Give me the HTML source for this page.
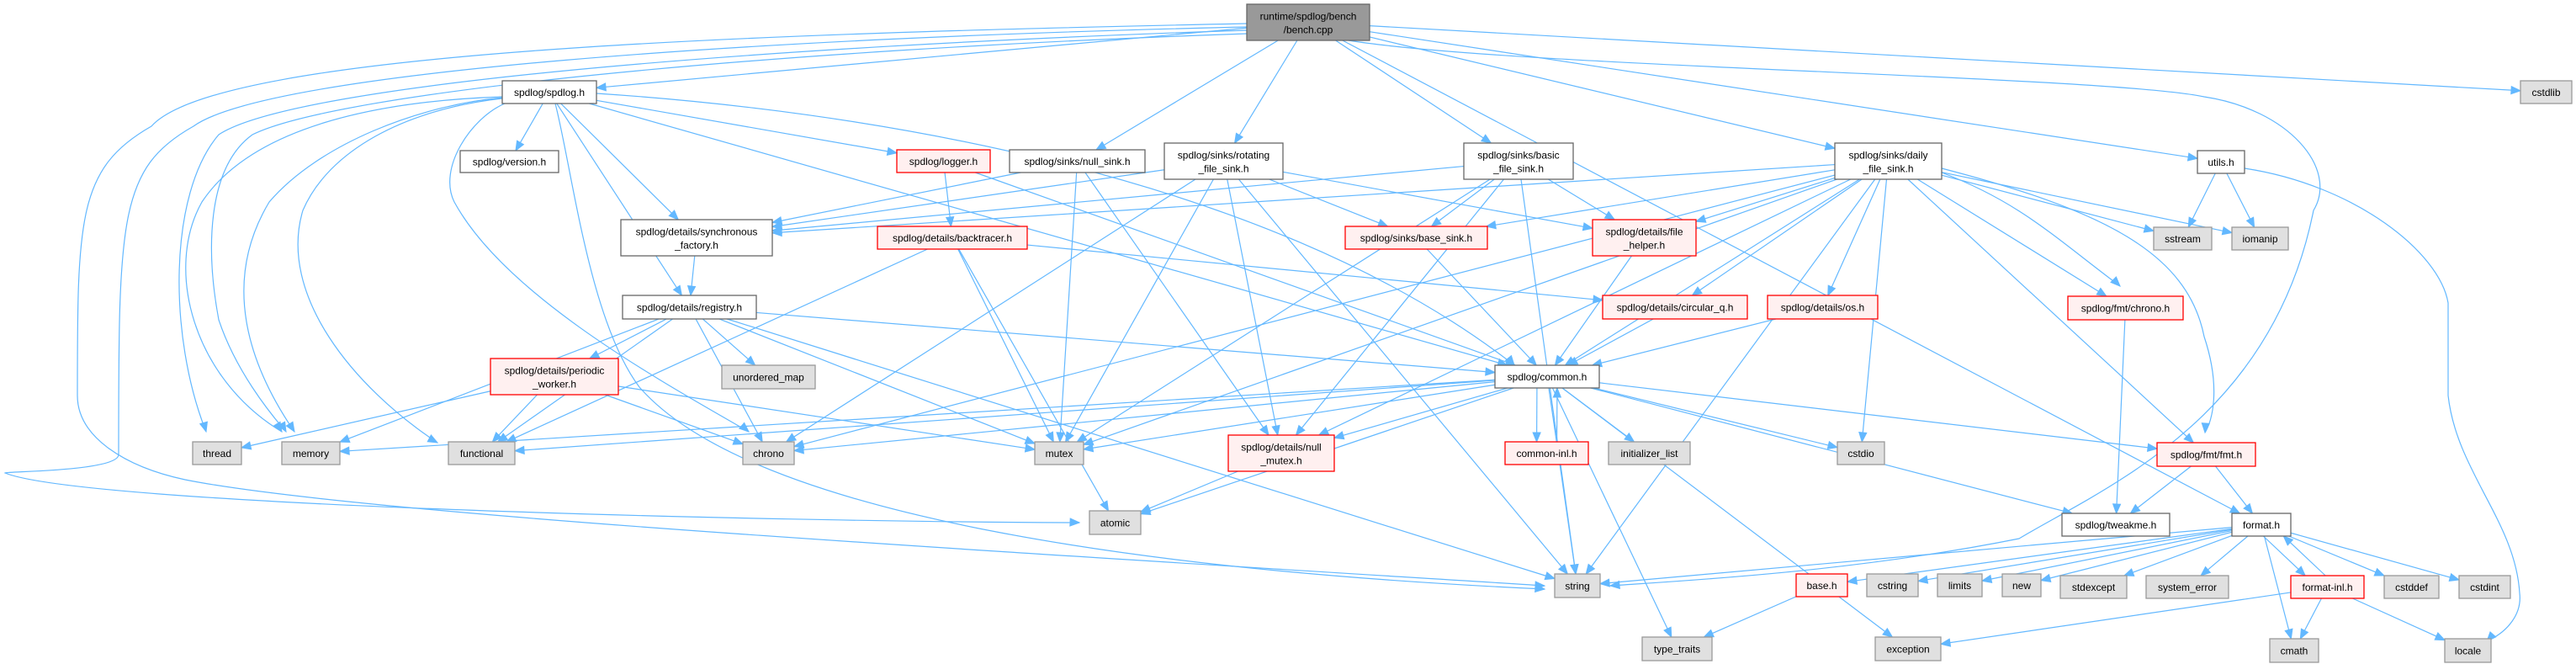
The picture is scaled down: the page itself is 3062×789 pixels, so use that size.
<!DOCTYPE html>
<html><head><meta charset="utf-8">
<style>
html,body{margin:0;padding:0;background:#fff;}
svg{display:block;}
text{font-family:"Liberation Sans",Arial,sans-serif;font-size:12px;fill:#000;}
</style></head>
<body>
<svg id="g" width="3062" height="789" viewBox="0 0 3062 789" xmlns="http://www.w3.org/2000/svg">
<g id="edges" fill="none" stroke="#63b8ff" stroke-width="1.2"></g>
<g id="arrows" fill="#63b8ff" stroke="#63b8ff"></g>
<g id="nodes"></g>
</svg>
<script>
var N={
bench:[1482,5,1628,48,'b',['runtime/spdlog/bench','/bench.cpp']],
cstdlib:[2996,96,3057,123,'s',['cstdlib']],
spdlog:[597,96,709,123,'w',['spdlog/spdlog.h']],
version:[547,179,664,205,'w',['spdlog/version.h']],
logger:[1066,178,1177,205,'r',['spdlog/logger.h']],
nullsink:[1200,178,1361,205,'w',['spdlog/sinks/null_sink.h']],
rot:[1384,170,1525,213,'w',['spdlog/sinks/rotating','_file_sink.h']],
basic:[1740,170,1870,213,'w',['spdlog/sinks/basic','_file_sink.h']],
daily:[2181,170,2308,213,'w',['spdlog/sinks/daily','_file_sink.h']],
utils:[2612,179,2668,206,'w',['utils.h']],
sstream:[2560,270,2629,297,'s',['sstream']],
iomanip:[2653,270,2720,297,'s',['iomanip']],
sync:[738,261,918,304,'w',['spdlog/details/synchronous','_factory.h']],
back:[1043,269,1221,296,'r',['spdlog/details/backtracer.h']],
basesink:[1599,269,1768,296,'r',['spdlog/sinks/base_sink.h']],
fileh:[1893,261,2016,304,'r',['spdlog/details/file','_helper.h']],
fchrono:[2458,352,2595,380,'r',['spdlog/fmt/chrono.h']],
reg:[740,351,899,379,'w',['spdlog/details/registry.h']],
circ:[1905,351,2077,379,'r',['spdlog/details/circular_q.h']],
os:[2101,351,2232,379,'r',['spdlog/details/os.h']],
per:[583,426,735,469,'r',['spdlog/details/periodic','_worker.h']],
umap:[858,434,969,462,'s',['unordered_map']],
common:[1777,434,1901,461,'w',['spdlog/common.h']],
fmt:[2564,526,2681,554,'r',['spdlog/fmt/fmt.h']],
thread:[229,525,287,552,'s',['thread']],
memory:[335,525,404,552,'s',['memory']],
functional:[533,525,612,552,'s',['functional']],
chrono:[883,525,944,552,'s',['chrono']],
mutex:[1230,525,1288,552,'s',['mutex']],
nullmutex:[1460,517,1586,560,'r',['spdlog/details/null','_mutex.h']],
cinl:[1789,525,1888,552,'r',['common-inl.h']],
ilist:[1912,525,2009,552,'s',['initializer_list']],
cstdio:[2184,525,2240,552,'s',['cstdio']],
tweak:[2451,610,2579,637,'w',['spdlog/tweakme.h']],
format:[2653,610,2723,637,'w',['format.h']],
atomic:[1295,607,1356,635,'s',['atomic']],
string:[1848,682,1902,710,'s',['string']],
base:[2135,682,2196,709,'r',['base.h']],
cstring:[2219,682,2280,709,'s',['cstring']],
limits:[2303,682,2356,709,'s',['limits']],
newh:[2380,682,2426,709,'s',['new']],
stdexc:[2449,684,2528,711,'s',['stdexcept']],
syserr:[2551,684,2649,711,'s',['system_error']],
finl:[2723,684,2810,711,'r',['format-inl.h']],
cstddef:[2834,684,2899,711,'s',['cstddef']],
cstdint:[2923,684,2984,711,'s',['cstdint']],
type:[1952,757,2035,785,'s',['type_traits']],
exc:[2229,757,2307,785,'s',['exception']],
cmath:[2698,759,2756,787,'s',['cmath']],
locale:[2906,759,2961,787,'s',['locale']]
};
var E=[
['bench','spdlog'],['bench','cstdlib'],['bench','nullsink'],['bench','rot'],['bench','basic'],['bench','daily'],['bench','utils'],['bench','format'],
['spdlog','version'],['spdlog','logger'],['spdlog','sync'],['spdlog','reg'],['spdlog','common'],
['logger','back'],['logger','common'],
['nullsink','sync'],['nullsink','nullmutex'],['nullsink','mutex'],
['rot','sync'],['rot','basesink'],['rot','fileh'],['rot','nullmutex'],['rot','mutex'],['rot','chrono'],['rot','string'],
['basic','sync'],['basic','basesink'],['basic','fileh'],['basic','nullmutex'],['basic','mutex'],['basic','string'],
['daily','sync'],['daily','basesink'],['daily','fileh'],['daily','circ'],['daily','os'],['daily','common'],['daily','fchrono'],['daily','fmt'],['daily','nullmutex'],['daily','mutex'],['daily','chrono'],['daily','cstdio'],['daily','string'],['daily','iomanip'],['daily','sstream'],
['utils','sstream'],['utils','iomanip'],
['sync','reg'],
['reg','common'],['reg','per'],['reg','chrono'],['reg','functional'],['reg','memory'],['reg','umap'],['reg','mutex'],['reg','string'],
['back','circ'],['back','atomic'],['back','mutex'],['back','functional'],
['basesink','common'],['fileh','common'],['circ','common'],['os','common'],
['per','thread'],['per','functional'],['per','chrono'],['per','mutex'],
['common','cinl'],['common','ilist'],['common','cstdio'],['common','string'],['common','type'],['common','exc'],['common','atomic'],['common','chrono'],['common','functional'],['common','memory'],['common','mutex'],['common','nullmutex'],['common','fmt'],['common','tweak'],
['cinl','common'],['nullmutex','atomic'],
['fmt','tweak'],['fmt','format'],['fchrono','tweak'],
['format','string'],['format','base'],['format','cstring'],['format','limits'],['format','newh'],['format','stdexc'],['format','syserr'],['format','finl'],['format','cstddef'],['format','cstdint'],['format','cmath'],
['finl','format'],['finl','cmath'],['finl','locale'],['finl','exc'],['base','type']
];
var ns='http://www.w3.org/2000/svg';
function el(t,a,p){var e=document.createElementNS(ns,t);for(var k in a)e.setAttribute(k,a[k]);p.appendChild(e);return e;}
var eg=document.getElementById('edges'),ag=document.getElementById('arrows'),ng=document.getElementById('nodes');
function clip(n,tx,ty,o){var cx=(n[0]+n[2])/2+o,cy=(n[1]+n[3])/2,hw=(n[2]-n[0])/2,hh=(n[3]-n[1])/2;var dx=tx-cx,dy=ty-cy;if(dx==0&&dy==0)return[cx,cy];var s=Math.min(dx?hw/Math.abs(dx):1e9,dy?hh/Math.abs(dy):1e9);return[cx+dx*s,cy+dy*s];}
function arrow(x1,y1,x2,y2){var a=Math.atan2(y2-y1,x2-x1),L=11,W=4.5;var bx=x2-L*Math.cos(a),by=y2-L*Math.sin(a);var px=-Math.sin(a)*W,py=Math.cos(a)*W;el('polygon',{points:x2+','+y2+' '+(bx+px)+','+(by+py)+' '+(bx-px)+','+(by-py)},ag);return[bx,by];}
E.forEach(function(e){var s=N[e[0]],t=N[e[1]];
var off=0;
if((e[0]=='cinl'&&e[1]=='common')||(e[0]=='finl'&&e[1]=='format'))off=12;
if((e[0]=='common'&&e[1]=='cinl')||(e[0]=='format'&&e[1]=='finl'))off=-12;
var sc=[(s[0]+s[2])/2+off,(s[1]+s[3])/2],tc=[(t[0]+t[2])/2+off,(t[1]+t[3])/2];
var p=clip(s,tc[0],tc[1],off),q=clip(t,sc[0],sc[1],off);
var b=arrow(p[0],p[1],q[0],q[1]);el('path',{d:'M'+p[0]+','+p[1]+'L'+b[0]+','+b[1]},eg);});
var R=[
['M1482,28 C900,40 260,60 180,150 C92,200 92,260 92,470 C92,520 150,555 220,570 C420,610 1100,650 1836,696',1836,696,1815,695],
['M1482,32 C900,45 320,85 230,150 C141,200 141,260 141,540 C141,560 10,560 6,562 C100,600 900,620 1283,621',1283,621,1260,620],
['M1482,36 C900,55 350,100 260,160 C200,230 200,400 245,513',245,513,240,495],
['M1482,40 C900,60 400,110 300,160 C245,200 245,300 260,380 C280,440 320,490 340,513',340,513,330,495],
['M597,115 C450,120 300,150 240,240 C195,320 230,450 335,513',335,513,325,497],
['M597,116 C500,125 380,170 320,240 C260,340 300,440 350,513',350,513,340,497],
['M597,117 C480,130 390,180 360,250 C330,350 420,460 520,526',520,526,505,518],
['M600,123 C560,140 520,200 540,240 C600,350 780,450 890,513',890,513,875,500],
['M660,123 C680,200 700,380 760,460 C900,620 1400,680 1836,700',1836,700,1815,698],
['M709,111 C1000,130 1500,200 1800,434',1800,434,1790,422],
['M1603,48 C1800,80 2500,90 2620,115 C2720,130 2780,200 2750,250 C2700,500 2500,580 2400,640 C2200,680 2000,690 1914,696',1914,696,1935,694],
['M2668,200 C2800,220 2900,300 2910,360 L2910,470 C2920,560 2990,620 2995,705 C2998,730 2980,750 2960,760',2956,762,2965,752],
['M2308,200 C2500,250 2600,300 2620,400 C2640,460 2630,500 2621,514',2621,514,2622,500],
['M2308,205 C2400,240 2440,280 2520,340',2520,340,2510,330]
];
R.forEach(function(r){el('path',{d:r[0]},eg);arrow(r[3],r[4],r[1],r[2]);});
for(var k in N){var n=N[k];var st={w:['#fff','#666'],r:['#fff0f0','#f00'],s:['#e0e0e0','#999'],b:['#999','#666']}[n[4]];
el('rect',{x:n[0],y:n[1],width:n[2]-n[0],height:n[3]-n[1],fill:st[0],stroke:st[1],'stroke-width':1.3},ng);
var cx=(n[0]+n[2])/2,h=n[3]-n[1];
if(n[5].length==1){var t=el('text',{x:cx,y:n[1]+h/2+4.5,'text-anchor':'middle'},ng);t.textContent=n[5][0];}
else{n[5].forEach(function(s,i){var t=el('text',{x:cx,y:n[1]+h/2-3+i*16,'text-anchor':'middle'},ng);t.textContent=s;});}}
</script>
</body></html>
